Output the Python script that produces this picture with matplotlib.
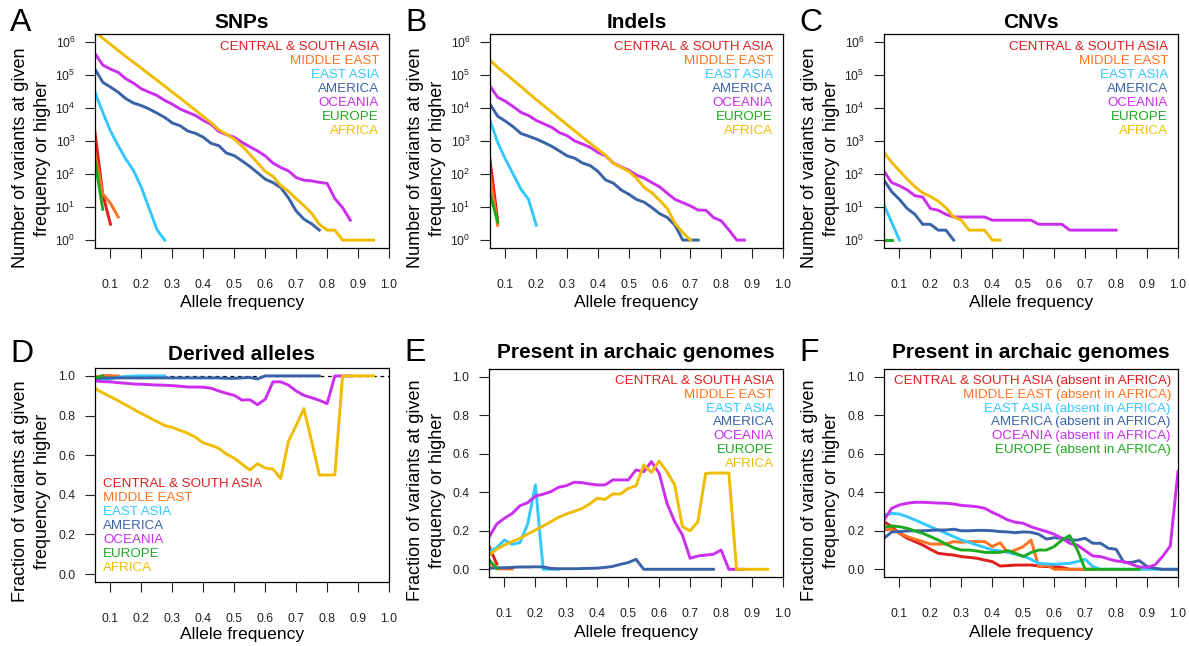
import numpy as np
import matplotlib
matplotlib.use("Agg")
import matplotlib.pyplot as plt

plt.rcParams['font.family'] = ['Liberation Sans', 'DejaVu Sans']
plt.rcParams['mathtext.default'] = 'regular'

# allele frequency grid (0.05 .. 1.0 in steps of 0.025)
freq = [0.05, 0.075, 0.1, 0.125, 0.15, 0.175, 0.2, 0.225, 0.25, 0.275,
        0.3, 0.325, 0.35, 0.375, 0.4, 0.425, 0.45, 0.475, 0.5, 0.525,
        0.55, 0.575, 0.6, 0.625, 0.65, 0.675, 0.7, 0.725, 0.75, 0.775,
        0.8, 0.825, 0.85, 0.875, 0.9, 0.925, 0.95, 0.975, 1.0]

pops = ["CENTRAL & SOUTH ASIA", "MIDDLE EAST", "EAST ASIA", "AMERICA",
        "OCEANIA", "EUROPE", "AFRICA"]
pop_colors = ["#e01e1e", "#ff7320", "#33c8ff", "#3a62a6", "#cc2ef0",
              "#1eaa1e", "#f0bc00"]

# --- A: SNPs (number of variants at given frequency or higher)
snp_csa = [1800, 25, 3]
snp_me = [400, 25, 13, 5]
snp_ea = [30000, 7400, 2000, 720, 280, 125, 39, 9, 2.1, 1]
snp_am = [150000, 60000, 43000, 30000, 19000, 14000, 11800, 9300, 7000, 5200,
          3500, 2900, 2000, 1700, 1300, 850, 720, 430, 360, 250,
          170, 110, 70, 55, 39, 19, 7.6, 4.3, 3.1, 2]
snp_oc = [440000, 200000, 150000, 120000, 76000, 56000, 38000, 30000, 24000, 17000,
          13000, 9300, 7400, 5900, 4200, 3200, 1950, 1550, 1300, 910,
          670, 500, 355, 215, 158, 125, 78, 65, 62, 56,
          52, 18, 9.6, 4]
snp_eu = [250, 8.5]
snp_af = [2000000, 1300000, 850000, 550000, 360000, 240000, 160000, 105000, 70000, 46000,
          30000, 20000, 13000, 8500, 5500, 3600, 2200, 1600, 1150, 700,
          400, 220, 120, 85, 45, 30, 18, 11, 6.5, 3,
          2, 2, 1, 1, 1, 1, 1]

# --- B: Indels
ind_csa = [280, 3.8]
ind_me = [95, 2.8]
ind_ea = [4200, 900, 280, 100, 35, 17, 2.8]
ind_am = [13000, 5600, 4000, 2700, 1700, 1400, 1150, 900, 690, 500,
          355, 300, 215, 180, 120, 66, 53, 33, 24.5, 17,
          14, 9.6, 6.3, 4.8, 2.8, 1, 1, 1]
ind_oc = [46000, 21000, 16000, 11000, 7400, 5900, 4200, 3300, 2600, 1800,
          1450, 1000, 810, 640, 450, 355, 215, 165, 130, 93,
          75, 55, 41, 26, 17, 13.6, 10.8, 8.1, 8, 4.8,
          3.8, 2, 1, 1]
ind_eu = [25, 3.5]
ind_af = [280000, 170000, 110000, 70000, 45000, 28000, 18000, 11500, 7500, 4800,
          3100, 2000, 1300, 850, 560, 370, 210, 160, 120, 75,
          39, 27, 16, 9, 3.2, 1.7, 1]

# --- C: CNVs
cnv_ea = [11.5, 3.4, 1]
cnv_am = [65, 29, 17, 9, 6, 3, 3, 2, 2, 1]
cnv_oc = [120, 55, 44, 33, 22, 20, 9, 8, 6, 5,
          5, 5, 5, 5, 4, 4, 4, 4, 4, 4,
          3, 3, 3, 3, 2, 2, 2, 2, 2, 2, 2]
cnv_eu = [1, 1]
cnv_af = [450, 224, 125, 70, 41, 27, 21, 15, 9.6, 5,
          4, 2, 2, 2, 1, 1]

# --- D: derived alleles (fraction)
der_csa = [0.99, 1.0, 1.0]
der_me = [0.995, 1.0, 1.0, 1.0]
der_ea = [0.975, 0.978, 0.985, 0.993, 0.997, 1.0, 1.0, 1.0, 1.0, 1.0]
der_am = [0.985, 0.99, 0.99, 0.99, 0.99, 0.99, 0.99, 0.99, 0.99, 0.99,
          0.99, 0.99, 0.99, 0.99, 0.99, 0.99, 0.99, 0.988, 0.988, 0.99,
          0.992, 0.985, 1.0, 1.0, 1.0, 1.0, 1.0, 1.0, 1.0, 1.0]
der_oc = [0.975, 0.971, 0.97, 0.966, 0.963, 0.959, 0.958, 0.956, 0.954, 0.953,
          0.951, 0.948, 0.944, 0.944, 0.943, 0.938, 0.924, 0.912, 0.902, 0.878,
          0.88, 0.855, 0.882, 0.97, 0.97, 0.954, 0.924, 0.902, 0.89, 0.877,
          0.86, 1.0, 1.0, 1.0]
der_eu = [0.99, 1.0]
der_af = [0.936, 0.915, 0.895, 0.875, 0.853, 0.832, 0.81, 0.79, 0.77, 0.75,
          0.74, 0.725, 0.71, 0.69, 0.662, 0.65, 0.635, 0.605, 0.585, 0.555,
          0.525, 0.557, 0.535, 0.53, 0.482, 0.67, 0.75, 0.835, 0.67, 0.5,
          0.5, 0.5, 1.0, 1.0, 1.0, 1.0, 1.0]

# --- E: present in archaic genomes
arc_csa = [0.12, 0.028]
arc_me = [0.035, 0.003, 0.002, 0.002]
arc_ea = [0.092, 0.112, 0.152, 0.13, 0.138, 0.235, 0.438, 0.0, 0.0, 0.0]
arc_am = [0.005, 0.008, 0.008, 0.01, 0.012, 0.012, 0.013, 0.012, 0.005, 0.003,
          0.003, 0.003, 0.004, 0.005, 0.006, 0.01, 0.015, 0.026, 0.035, 0.052,
          0.0, 0.0, 0.0, 0.0, 0.0, 0.0, 0.0, 0.0, 0.0, 0.0]
arc_oc = [0.166, 0.235, 0.265, 0.29, 0.33, 0.346, 0.38, 0.39, 0.403, 0.426,
          0.434, 0.452, 0.45, 0.443, 0.438, 0.438, 0.464, 0.464, 0.464, 0.516,
          0.507, 0.559, 0.498, 0.343, 0.247, 0.178, 0.057, 0.069, 0.074, 0.078,
          0.1, 0.0, 0.0, 0.0]
arc_eu = [0.05, 0.005]
arc_af = [0.074, 0.104, 0.126, 0.144, 0.161, 0.183, 0.204, 0.225, 0.247, 0.27,
          0.287, 0.301, 0.315, 0.339, 0.369, 0.363, 0.391, 0.391, 0.42, 0.434,
          0.542, 0.503, 0.562, 0.507, 0.438, 0.221, 0.2, 0.247, 0.498, 0.5,
          0.5, 0.5, 0.0, 0.0, 0.0, 0.0, 0.0]

# --- F: present in archaic genomes, absent in Africa
noaf_csa = [0.247, 0.221, 0.187, 0.161, 0.144, 0.126, 0.104, 0.083, 0.078, 0.074,
            0.066, 0.062, 0.057, 0.048, 0.04, 0.017, 0.019, 0.022, 0.022, 0.022,
            0.017, 0.014, 0.014, 0.01, 0.0, 0.0, 0.0, 0.0]
noaf_me = [0.204, 0.208, 0.19, 0.17, 0.156, 0.144, 0.131, 0.131, 0.131, 0.144,
           0.14, 0.144, 0.144, 0.144, 0.118, 0.138, 0.087, 0.1, 0.118, 0.152,
           0.014, 0.022, 0.0, 0.0, 0.0, 0.0, 0.0, 0.0]
noaf_ea = [0.282, 0.29, 0.287, 0.273, 0.256, 0.239, 0.221, 0.204, 0.187, 0.17,
           0.152, 0.14, 0.126, 0.114, 0.1, 0.095, 0.088, 0.078, 0.069, 0.052,
           0.031, 0.028, 0.026, 0.028, 0.031, 0.04, 0.052, 0.014, 0.0, 0.0,
           0.0, 0.0, 0.0, 0.0, 0.0, 0.0, 0.0, 0.0, 0.0]
noaf_am = [0.161, 0.194, 0.196, 0.199, 0.2, 0.2, 0.202, 0.204, 0.204, 0.208,
           0.2, 0.2, 0.202, 0.202, 0.2, 0.196, 0.194, 0.19, 0.194, 0.192,
           0.182, 0.157, 0.164, 0.161, 0.152, 0.152, 0.161, 0.135, 0.135, 0.109,
           0.104, 0.036, 0.036, 0.045, 0.014, 0.005, 0.0, 0.0, 0.0]
noaf_oc = [0.256, 0.317, 0.334, 0.343, 0.348, 0.348, 0.346, 0.344, 0.343, 0.339,
           0.332, 0.329, 0.325, 0.317, 0.296, 0.277, 0.256, 0.244, 0.239, 0.221,
           0.208, 0.196, 0.182, 0.161, 0.135, 0.125, 0.097, 0.069, 0.066, 0.054,
           0.043, 0.04, 0.026, 0.012, 0.01, 0.022, 0.066, 0.121, 0.507]
noaf_eu = [0.218, 0.225, 0.221, 0.213, 0.199, 0.187, 0.17, 0.152, 0.131, 0.112,
           0.1, 0.1, 0.095, 0.088, 0.087, 0.088, 0.097, 0.083, 0.066, 0.087,
           0.1, 0.1, 0.118, 0.152, 0.175, 0.1, 0.0, 0.0, 0.0, 0.0,
           0.0, 0.0, 0.0, 0.0]

W, H = 1189, 646
fig = plt.figure(figsize=(W / 100, H / 100), dpi=100)
fig.patch.set_facecolor("white")


def box(l, r, t, b):
    ax = fig.add_axes([l / W, 1 - b / H, (r - l) / W, (b - t) / H])
    for s in ax.spines.values():
        s.set_linewidth(0.9)
    ax.set_xlim(0.05, 1.0)
    ax.set_xticks([0.1, 0.2, 0.3, 0.4, 0.5, 0.6, 0.7, 0.8, 0.9, 1.0])
    ax.set_xticklabels(["0.1", "0.2", "0.3", "0.4", "0.5", "0.6", "0.7", "0.8", "0.9", "1.0"])
    ax.tick_params(axis="x", direction="out", length=7, width=0.8, pad=15,
                   labelsize=8.8, colors="#222222")
    ax.tick_params(axis="y", direction="out", length=7, width=0.8, pad=7,
                   labelsize=8.8, colors="#222222")
    ax.minorticks_off()
    return ax


def labels(ax, letter, title, ylab, l, r, t, b, ty, xly, yly):
    cx = (l + r) / 2 / W
    fig.text(cx, 1 - ty / H, title, ha="center", va="center", fontsize=15,
             fontweight="bold")
    fig.text((l - 85) / W, 1 - ty / H, letter, ha="left", va="center", fontsize=23)
    fig.text(cx, 1 - xly / H, "Allele frequency", ha="center", va="center", fontsize=12.6)
    fig.text((l - 74) / W, 1 - yly / H, ylab[0], ha="center", va="center",
             rotation=90, fontsize=13)
    fig.text((l - 52) / W, 1 - yly / H, ylab[1], ha="center", va="center",
             rotation=90, fontsize=13)


def legend(ax, names, colors, x, y0, step, ha):
    for i, (n, c) in enumerate(zip(names, colors)):
        ax.text(x, y0 - i * step, n, color=c, ha=ha, va="center", fontsize=9.6,
                transform=ax.transAxes)


def draw(ax, series):
    for vals, c in series:
        if vals is None:
            continue
        ax.plot(freq[:len(vals)], vals, color=c, lw=2.1, solid_joinstyle="round")


count_lab = ["Number of variants at given", "frequency or higher"]
frac_lab = ["Fraction of variants at given", "frequency or higher"]

top = [("A", "SNPs", 95, 389, [snp_csa, snp_me, snp_ea, snp_am, snp_oc, snp_eu, snp_af]),
       ("B", "Indels", 490, 783, [ind_csa, ind_me, ind_ea, ind_am, ind_oc, ind_eu, ind_af]),
       ("C", "CNVs", 884, 1178, [None, None, cnv_ea, cnv_am, cnv_oc, cnv_eu, cnv_af])]

for letter, title, l, r, data in top:
    ax = box(l, r, 34, 248)
    ax.set_yscale("log")
    ax.set_ylim(10 ** -0.24, 10 ** 6.24)
    ax.set_yticks([1, 10, 100, 1e3, 1e4, 1e5, 1e6])
    ax.yaxis.set_minor_locator(matplotlib.ticker.NullLocator())
    draw(ax, zip(data, pop_colors))
    legend(ax, pops, pop_colors, 0.966, 0.939, 14 / 214, "right")
    labels(ax, letter, title, count_lab, l, r, 34, 248, 23, 303, 158)

frac_ticks = [0.0, 0.2, 0.4, 0.6, 0.8, 1.0]
frac_tlabs = ["0.0", "0.2", "0.4", "0.6", "0.8", "1.0"]

# D
ax = box(95, 389, 368, 582)
ax.set_ylim(-0.04, 1.04)
ax.set_yticks(frac_ticks)
ax.set_yticklabels(frac_tlabs)
ax.axhline(1.0, color="black", lw=0.9, ls=(0, (3, 3)), zorder=0)
draw(ax, zip([der_csa, der_me, der_ea, der_am, der_oc, der_eu, der_af], pop_colors))
legend(ax, pops, pop_colors, 0.027, 0.458, 14 / 214, "left")
labels(ax, "D", "Derived alleles", frac_lab, 95, 389, 368, 582, 354, 635, 491)

# E
ax = box(489, 783, 369, 577)
ax.set_ylim(-0.04, 1.04)
ax.set_yticks(frac_ticks)
ax.set_yticklabels(frac_tlabs)
draw(ax, zip([arc_csa, arc_me, arc_ea, arc_am, arc_oc, arc_eu, arc_af], pop_colors))
legend(ax, pops, pop_colors, 0.969, 0.942, 13.8 / 208, "right")
labels(ax, "E", "Present in archaic genomes", frac_lab, 489, 783, 369, 577, 353, 632, 490)

# F
ax = box(884, 1178, 369, 577)
ax.set_ylim(-0.04, 1.04)
ax.set_yticks(frac_ticks)
ax.set_yticklabels(frac_tlabs)
draw(ax, zip([noaf_csa, noaf_me, noaf_ea, noaf_am, noaf_oc, noaf_eu], pop_colors[:6]))
legend(ax, [p + " (absent in AFRICA)" for p in pops[:6]], pop_colors[:6],
       0.976, 0.942, 13.8 / 208, "right")
labels(ax, "F", "Present in archaic genomes", frac_lab, 884, 1178, 369, 577, 353, 632, 490)

fig.savefig("out.png", dpi=100)
